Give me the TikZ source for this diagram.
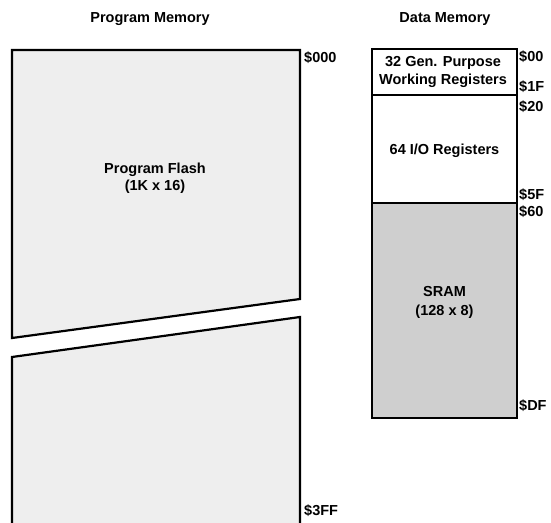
\documentclass[tikz,border=0pt]{standalone}
\usepackage{fontspec}
\setmainfont{Liberation Sans}
\definecolor{flashgray}{HTML}{EEEEEE}
\definecolor{sramgray}{HTML}{CFCFCF}
\begin{document}
\begin{tikzpicture}[x=1pt,y=-1pt,
  lbl/.style={font=\fontsize{14.5}{18}\selectfont\bfseries, inner sep=0pt, align=center},
  addr/.style={font=\fontsize{14.5}{16}\selectfont\bfseries, inner sep=0pt, anchor=west},
  memline/.style={draw=black, line width=2.2pt, line join=miter}]
\useasboundingbox (0,0) rectangle (551,522);
\clip (0,0) rectangle (551,522);
% Program memory
\filldraw[memline, fill=flashgray] (12,50) -- (300,50) -- (300,299) -- (12,338) -- cycle;
\filldraw[memline, fill=flashgray] (12,357) -- (300,317) -- (300,540) -- (12,540) -- cycle;
% Data memory
\filldraw[memline, fill=white] (372,49) rectangle (517,95);
\filldraw[memline, fill=white] (372,95) rectangle (517,203);
\filldraw[memline, fill=sramgray] (372,203) rectangle (517,418);
% titles
\node[lbl] (tpm) at (150,19) {Program Memory};
\node[lbl] (tdm) at (445,19) {Data Memory};
% contents
\node[lbl, font=\fontsize{14.5}{17}\selectfont\bfseries] (pf) at (155,178.5) {Program Flash\\(1K x 16)};
\node[lbl] (gp) at (443,72) {32 Gen. Purpose\\Working Registers};
\node[lbl] (io) at (444.5,151) {64 I/O Registers};
\node[lbl, font=\fontsize{14.5}{19}\selectfont\bfseries] (sr) at (444.5,302.5) {SRAM\\(128 x 8)};
% addresses
\node[addr] (a000) at (304,58) {\$000};
\node[addr] (a3ff) at (304,511) {\$3FF};
\node[addr] (a00) at (519,57) {\$00};
\node[addr] (a1f) at (519,87) {\$1F};
\node[addr] (a20) at (519,107) {\$20};
\node[addr] (a5f) at (519,195) {\$5F};
\node[addr] (a60) at (519,212) {\$60};
\node[addr] (adf) at (519,406) {\$DF};
\end{tikzpicture}
\end{document}
